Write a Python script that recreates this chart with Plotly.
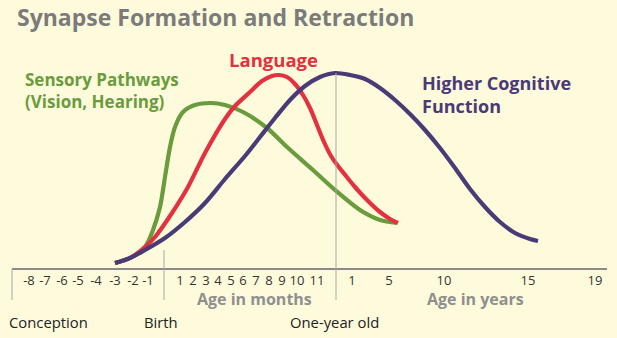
import plotly.graph_objects as go

# ---- data (x in axis display units, y = height above baseline) ----
SENSORY_X = [115, 130, 145, 153, 160, 165, 170, 175, 183, 195, 211, 225, 243, 267, 287, 313, 335, 360, 380, 397]
SENSORY_Y = [6, 11, 22, 39, 62, 92, 122, 142, 157, 164, 166, 164, 157, 141, 122, 99, 79, 59, 49, 46]

LANGUAGE_X = [115, 130, 145, 155, 172, 188, 205, 225, 235, 250, 262, 272, 279, 287, 295, 303, 310, 317, 324,
              331, 338, 346, 355, 367, 380, 390, 398]
LANGUAGE_Y = [6, 11, 22, 32, 56, 82, 116, 150, 163, 177, 188, 193, 194, 192, 185, 174, 161, 144, 127,
              113, 103, 93, 82, 69, 57, 50, 46]

COGNITIVE_X = [115, 130, 145, 165, 185, 205, 225, 245, 260, 275, 290, 305, 320, 335, 350, 365, 380, 395,
               410, 425, 440, 455, 470, 485, 500, 515, 530, 538]
COGNITIVE_Y = [6, 11, 19, 31, 47, 66, 90, 113, 132, 151, 169, 183, 192, 196, 194, 190, 181, 169,
               155, 139, 121, 101, 80, 62, 47, 36, 30, 28]

TICK_LABELS = ["-8", "-7", "-6", "-5", "-4", "-3", "-2", "-1",
               "1", "2", "3", "4", "5", "6", "7", "8", "9", "10", "11",
               "1", "5", "10", "15", "19"]
TICK_POS = [29, 45, 62, 78, 96, 115, 133, 148,
            180, 193, 206, 218, 231, 243, 256, 269, 282, 297, 317,
            352, 389, 444, 528, 595]

MILESTONES = ["Conception", "Birth", "One-year old"]
MILESTONE_POS = [12, 164, 336]

GREEN = "#6a9b3d"
RED = "#e3313f"
PURPLE = "#4a3a76"
BG = "#fefbdc"

fig = go.Figure()

for xs, ys, c in [(SENSORY_X, SENSORY_Y, GREEN), (LANGUAGE_X, LANGUAGE_Y, RED), (COGNITIVE_X, COGNITIVE_Y, PURPLE)]:
    fig.add_trace(go.Scatter(x=xs, y=ys, mode="lines",
                             line=dict(color=c, width=4.2, shape="spline", smoothing=0.8),
                             hoverinfo="skip", showlegend=False))

# tick labels
fig.add_trace(go.Scatter(x=TICK_POS, y=[-13] * len(TICK_POS), mode="text", text=TICK_LABELS,
                         textfont=dict(family="Open Sans", size=13, color="#333333"),
                         hoverinfo="skip", showlegend=False))

# baseline and vertical marker lines
fig.add_shape(type="line", x0=12, x1=607, y0=0, y1=0, line=dict(color="#8a8a8a", width=2))
tops = [0, 19, 196]
for xp, top in zip(MILESTONE_POS, tops):
    fig.add_shape(type="line", x0=xp, x1=xp, y0=top, y1=-31, line=dict(color="#a8a8a8", width=1))

# milestone labels
ms_x = [7, 142, 288]
for t, xp in zip(MILESTONES, ms_x):
    fig.add_annotation(x=xp, y=-53, text=t, showarrow=False, xanchor="left", yanchor="middle",
                       font=dict(family="Open Sans", size=14.8, color="#222222"))

def label(text, x, y, color, size, anchor="left"):
    fig.add_annotation(x=x, y=y, text=text, showarrow=False, xanchor=anchor, yanchor="middle",
                       align="left", font=dict(family="Open Sans", size=size, color=color, weight="bold"))

label("Synapse Formation and Retraction", 15, 252, "#7b7b7b", 23)
label("Sensory Pathways<br>(Vision, Hearing)", 23, 179, GREEN, 17)
label("Language", 227, 210, RED, 18.5)
label("Higher Cognitive<br>Function", 420, 175, PURPLE, 18)
label("Age in months", 195, -30, "#8f8f8f", 16)
label("Age in years", 425, -30, "#8f8f8f", 16)

fig.update_layout(
    width=617, height=338, margin=dict(l=0, r=0, t=0, b=0),
    paper_bgcolor=BG, plot_bgcolor=BG,
    xaxis=dict(range=[0, 617], visible=False, fixedrange=True),
    yaxis=dict(range=[-69, 269], visible=False, fixedrange=True),
    showlegend=False,
)

fig.write_html("out.html")
